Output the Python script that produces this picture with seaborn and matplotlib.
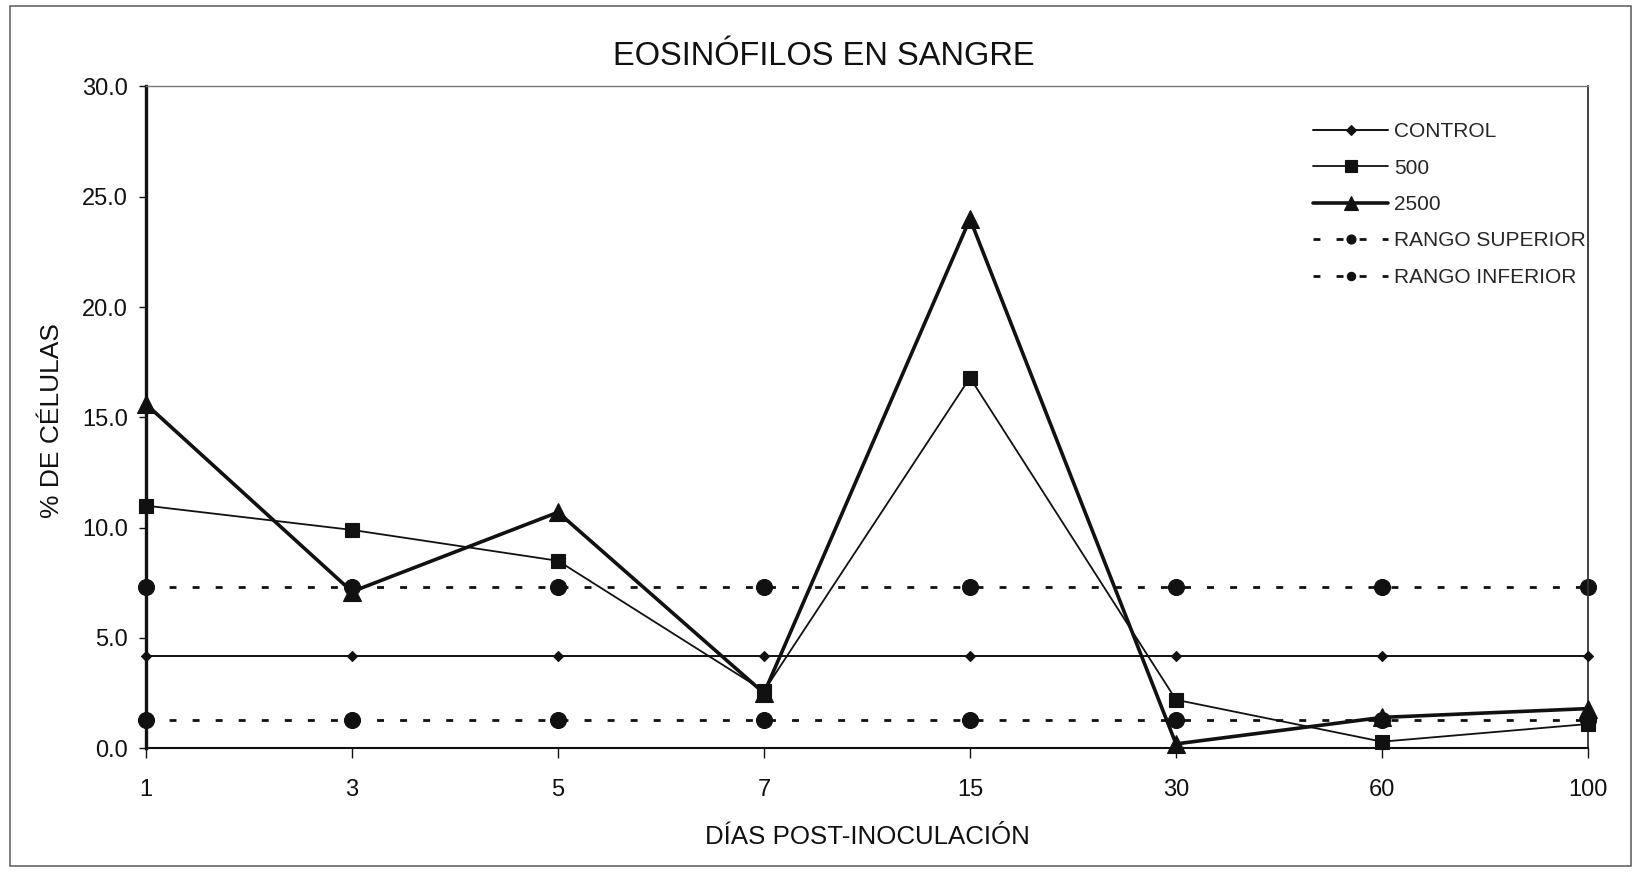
import matplotlib
matplotlib.use("Agg")
import matplotlib.pyplot as plt
from matplotlib.ticker import FormatStrFormatter, MultipleLocator
from matplotlib.patches import Rectangle
import pandas as pd
import seaborn as sns

# Days post-inoculation (categorical, evenly spaced)
days = ["1", "3", "5", "7", "15", "30", "60", "100"]

# Percentage of eosinophils in blood per group
control = [4.2, 4.2, 4.2, 4.2, 4.2, 4.2, 4.2, 4.2]
dose_500 = [11.0, 9.9, 8.5, 2.6, 16.8, 2.2, 0.3, 1.1]
dose_2500 = [15.6, 7.1, 10.7, 2.5, 24.0, 0.2, 1.4, 1.8]
rango_superior = [7.3, 7.3, 7.3, 7.3, 7.3, 7.3, 7.3, 7.3]
rango_inferior = [1.3, 1.3, 1.3, 1.3, 1.3, 1.3, 1.3, 1.3]

legend_order = ["CONTROL", "500", "2500", "RANGO SUPERIOR", "RANGO INFERIOR"]

sns.set_style("white")
plt.rcParams["font.family"] = ["Liberation Sans", "DejaVu Sans"]

INK = "#111111"
W, H = 1637, 872

fig = plt.figure(figsize=(W / 100, H / 100), dpi=100)
ax = fig.add_axes([146 / W, 1 - 748.3 / H, (1588 - 146) / W, (748.3 - 86.5) / H])

dash = (0, (2.5, 5.8))

series = [
    # (values, label, marker, markersize, linewidth, linestyle, zorder)
    (rango_superior, "RANGO SUPERIOR", "o", 11.5, 2.0, dash, 2),
    (rango_inferior, "RANGO INFERIOR", "o", 11.5, 2.0, dash, 2),
    (control, "CONTROL", "D", 5.0, 1.4, "-", 3),
    (dose_500, "500", "s", 10.5, 1.3, "-", 4),
    (dose_2500, "2500", "^", 13.5, 2.6, "-", 5),
]

for values, label, marker, ms, lw, ls, z in series:
    df = pd.DataFrame({"dia": days, "pct": values})
    sns.lineplot(
        data=df, x="dia", y="pct", sort=False, errorbar=None, ax=ax,
        color=INK, marker=marker, markersize=ms, linewidth=lw,
        linestyle=ls, markeredgecolor=INK, markeredgewidth=0.8,
        label=label, clip_on=False, zorder=z,
    )

ax.set_xlim(0, len(days) - 1)
ax.set_ylim(0, 30)
ax.yaxis.set_major_locator(MultipleLocator(5))
ax.yaxis.set_major_formatter(FormatStrFormatter("%.1f"))

ax.tick_params(axis="y", which="major", left=True, length=5, width=1,
               color=INK, labelsize=17, pad=8, labelcolor=INK)
ax.tick_params(axis="x", which="major", bottom=True, length=7, width=1,
               color=INK, labelsize=17, pad=15, labelcolor=INK)

for side, lw, col in [("left", 2.4, INK), ("bottom", 1.5, INK),
                      ("right", 1.3, "#333333"), ("top", 1.0, "#777777")]:
    ax.spines[side].set_visible(True)
    ax.spines[side].set_linewidth(lw)
    ax.spines[side].set_color(col)

ax.set_xlabel("DÍAS POST-INOCULACIÓN", fontsize=18.6, color=INK)
ax.xaxis.set_label_coords(0.5, -0.116)
ax.set_ylabel("% DE CÉLULAS", fontsize=19, color=INK)
ax.yaxis.set_label_coords(-0.057, 0.495)

fig.text(824 / W, 1 - 56 / H, "EOSINÓFILOS EN SANGRE", ha="center",
         va="center", fontsize=23.5, color=INK)

handles, labels = ax.get_legend_handles_labels()
lookup = dict(zip(labels, handles))
leg = ax.legend(
    [lookup[k] for k in legend_order], legend_order,
    loc="upper left", bbox_to_anchor=(1313 / W, 1 - 122 / H),
    bbox_transform=fig.transFigure, frameon=False, fontsize=15,
    handlelength=3.6, handletextpad=0.3, labelspacing=0.84,
    borderpad=0, borderaxespad=0, numpoints=1,
)
legend_marker_sizes = [5.0, 9.0, 10.0, 6.5, 6.0]
for handle, size in zip(leg.legend_handles, legend_marker_sizes):
    handle.set_markersize(size)

# Chart-area border
fig.add_artist(Rectangle((10 / W, 6 / H), (1631 - 10) / W, (866 - 6) / H,
                         transform=fig.transFigure, fill=False,
                         edgecolor="#666666", linewidth=1.2))

fig.savefig("out.png", dpi=100, facecolor="white")
